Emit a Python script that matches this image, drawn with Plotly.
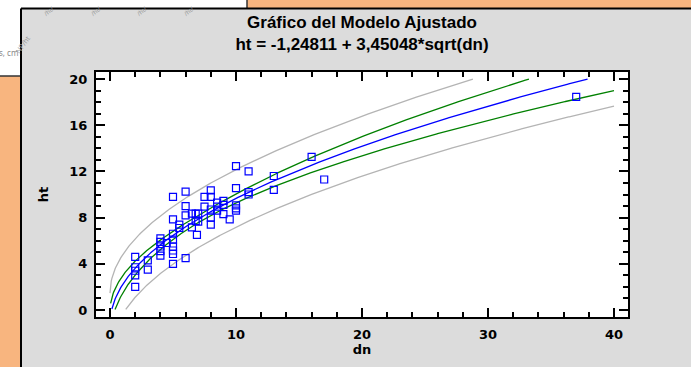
import numpy as np
import plotly.graph_objects as go

# Observations: diameter (dn) and total height (ht)
dn = [2, 2, 2, 2, 2, 3, 3, 4, 4, 4, 4, 4, 4.5,
      5, 5, 5, 5, 5, 5, 5, 5, 5.5, 5.5, 6, 6, 6, 6, 6.5, 6.5,
      6.8, 6.8, 6.9, 7, 7, 7.5, 7.5, 8, 8, 8, 8, 8, 8.5, 8.5, 8.5,
      9, 9, 9, 9.5, 10, 10, 10, 10, 10, 11, 11, 11, 13, 13, 16, 17, 37]
ht = [4.6, 3.7, 3.4, 3.0, 2.0, 4.3, 3.5, 6.2, 5.9, 5.5, 5.1, 4.7, 5.8,
      9.8, 7.85, 6.6, 6.1, 5.5, 5.15, 4.85, 4.0, 7.4, 7.1, 10.25, 9.0, 8.2, 4.5, 8.35, 7.15,
      8.35, 7.7, 6.5, 8.35, 7.65, 9.8, 8.95, 10.35, 9.8, 8.7, 8.0, 7.4, 9.3, 8.95, 8.6,
      9.45, 9.1, 8.3, 7.85, 12.45, 10.55, 9.05, 8.8, 8.6, 12.0, 10.2, 10.0, 11.6, 10.4, 13.25, 11.3, 18.45]

# Fitted model ht = b0 + b1*sqrt(dn)
INTERCEPT = -1.24811
SLOPE = 3.45048
T_CRIT = 2.0          # Student t, 95 %, n-2 d.f.

x_ticks = [0, 10, 20, 30, 40]
y_ticks = [0, 4, 8, 12, 16, 20]

TITLE = "Gráfico del Modelo Ajustado<br>ht = -1,24811 + 3,45048*sqrt(dn)"

# ---- regression bands -------------------------------------------------
u_obs = np.sqrt(np.array(dn, dtype=float))
y_obs = np.array(ht, dtype=float)
n = len(u_obs)
resid = y_obs - (INTERCEPT + SLOPE * u_obs)
s = np.sqrt(np.sum(resid ** 2) / (n - 2))
ubar = u_obs.mean()
suu = np.sum((u_obs - ubar) ** 2)

grid = np.linspace(0, 40, 801)
u = np.sqrt(grid)
fit = INTERCEPT + SLOPE * u
lev = 1.0 / n + (u - ubar) ** 2 / suu
conf = T_CRIT * s * np.sqrt(lev)
pred = T_CRIT * s * np.sqrt(1.0 + lev)


def clip(v, lo=0.0, hi=20.0):
    v = v.copy()
    v[(v < lo) | (v > hi)] = np.nan
    return v


W, H = 691, 367
ML, MR, MT, MB = 96, 63, 72, 50
PW, PH = W - ML - MR, H - MT - MB


def px(x):
    return (x - ML) / PW


def py(y):
    return (H - MB - y) / PH


fig = go.Figure()

curves = [
    (fit + pred, "#b4b4b4"),
    (fit - pred, "#b4b4b4"),
    (fit + conf, "#008000"),
    (fit - conf, "#008000"),
    (fit, "#0000ff"),
]
for vals, col in curves:
    fig.add_trace(go.Scatter(x=grid, y=clip(vals), mode="lines",
                             line=dict(color=col, width=1.3),
                             connectgaps=False, hoverinfo="skip"))

fig.add_trace(go.Scatter(x=dn, y=ht, mode="markers",
                         marker=dict(symbol="square-open", size=7,
                                     color="#0000ff", line=dict(width=1.2))))

tick_font = dict(family="DejaVu Sans", size=13, color="black", weight="bold")
axis_common = dict(
    showline=True, linecolor="black", linewidth=2, mirror="ticks",
    ticks="inside", ticklen=9, tickwidth=2, tickcolor="black",
    showgrid=False, zeroline=False, tickfont=tick_font,
    ticklabelstandoff=4,
)

fig.update_xaxes(range=[-14 / 12.6, (PW - 14) / 12.6],
                 tickvals=x_ticks,
                 minor=dict(dtick=2, tick0=0, ticks="inside", ticklen=5,
                            tickwidth=1.5, tickcolor="black"),
                 title=dict(text="dn", standoff=1,
                            font=dict(family="DejaVu Sans", size=13,
                                      color="black", weight="bold")),
                 **axis_common)
fig.update_yaxes(range=[-7 / 11.55, (PH - 7) / 11.55],
                 tickvals=y_ticks,
                 minor=dict(dtick=1, tick0=0, ticks="inside", ticklen=5,
                            tickwidth=1.5, tickcolor="black"),
                 title=dict(text="ht", standoff=18,
                            font=dict(family="DejaVu Sans", size=13,
                                      color="black", weight="bold")),
                 **axis_common)

ORANGE = "#f8b57f"
EDGE = "#333333"


def rect(x0, y0, x1, y1, fill):
    return dict(type="rect", xref="paper", yref="paper",
                x0=px(x0), x1=px(x1), y0=py(y0), y1=py(y1),
                fillcolor=fill, line=dict(width=0), layer="below")


def seg(x0, y0, x1, y1, color, width):
    return dict(type="line", xref="paper", yref="paper",
                x0=px(x0), x1=px(x1), y0=py(y0), y1=py(y1),
                line=dict(color=color, width=width), layer="below")


# page around the grey panel: white sheet corner and orange background
shapes = [
    rect(-5, -5, 247, 8.5, "white"),
    rect(-5, -5, 21, 76, "white"),
    rect(247, -5, W + 5, 8.5, ORANGE),
    rect(-5, 76, 21, H + 5, ORANGE),
    seg(247, -5, 247, 8.5, EDGE, 1.5),
    seg(-5, 76, 21, 76, EDGE, 1.5),
    # panel frame
    seg(21, 8.5, W + 5, 8.5, "black", 2),
    seg(21, 8.5, 21, H + 5, "black", 2),
]

annotations = [
    dict(xref="paper", yref="paper", x=px(19.5), y=py(53), xanchor="right",
         yanchor="middle", text="s, cm", showarrow=False,
         font=dict(family="Noto Sans", size=8, color="#8a8a8a")),
    dict(xref="paper", yref="paper", x=px(11), y=py(31), text="NP/ht",
         textangle=-55, showarrow=False,
         font=dict(family="Noto Sans", size=7, color="#9a9a9a")),
]
for xpos in [40, 87, 133, 180]:
    annotations.append(dict(xref="paper", yref="paper", x=px(xpos), y=py(2),
                            text="/ht/", textangle=-40, showarrow=False,
                            font=dict(family="Noto Sans", size=6, color="#9a9a9a")))

fig.update_layout(
    width=W, height=H,
    margin=dict(l=ML, r=MR, t=MT, b=MB),
    paper_bgcolor="#dcdcdc",
    plot_bgcolor="white",
    showlegend=False,
    shapes=shapes,
    annotations=annotations,
    title=dict(text=TITLE, x=px(362), xref="paper", xanchor="center",
               y=1 - 28 / H, yref="container", yanchor="middle",
               font=dict(family="Liberation Sans, Arial", size=17, color="black",
                         weight="bold")),
)

fig.write_html("out.html")
